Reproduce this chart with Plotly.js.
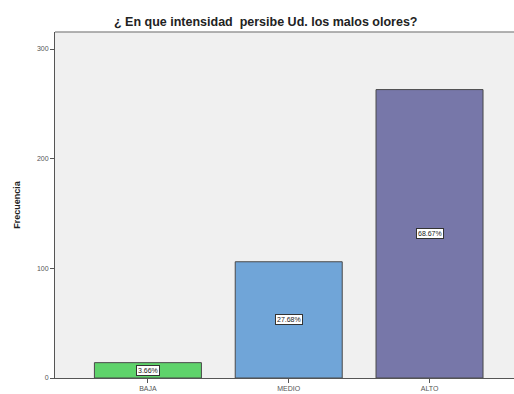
<!DOCTYPE html>
<html>
<head>
<meta charset="utf-8">
<script src="https://cdn.plot.ly/plotly-3.0.1.min.js"></script>
<style>html,body{margin:0;padding:0;background:#fff;}#chart{width:514px;height:394px;}</style>
</head>
<body>
<div id="chart"></div>
<script>
const categories = ["BAJA", "MEDIO", "ALTO"];
const counts = [14, 106, 263];
const percentLabels = ["3.66%", "27.68%", "68.67%"];
const barColors = ["#5fd36b", "#70a5d8", "#7777a9"];
const yTicks = [0, 100, 200, 300];

const trace = {
  type: "bar",
  x: categories,
  y: counts,
  marker: {color: barColors, line: {color: "#4a4a4a", width: 1}},
  width: 0.76,
  hoverinfo: "none"
};

const annotations = categories.map((c, i) => ({
  x: c, y: counts[i] / 2, xref: "x", yref: "y",
  text: percentLabels[i], showarrow: false,
  font: {family: "Arial, Liberation Sans, sans-serif", size: 7, color: "#222"},
  bgcolor: "#ffffff", bordercolor: "#333", borderwidth: 1, borderpad: 1
}));

const layout = {
  width: 514, height: 394,
  margin: {l: 55, r: 0, t: 32, b: 16},
  paper_bgcolor: "#ffffff",
  plot_bgcolor: "#f0f0f0",
  showlegend: false,
  title: {
    text: "<b>¿ En que intensidad  persibe Ud. los malos olores?</b>",
    font: {family: "Arial, Liberation Sans, sans-serif", size: 12.5, color: "#222"},
    x: 0.517, xanchor: "center", y: 0.944, yanchor: "middle"
  },
  xaxis: {
    range: [-0.66, 2.6],
    showgrid: false, zeroline: false,
    showline: true, linecolor: "#555", linewidth: 1,
    ticks: "outside", ticklen: 4, tickcolor: "#555",
    tickfont: {family: "Arial, Liberation Sans, sans-serif", size: 7, color: "#555"},
    fixedrange: true
  },
  yaxis: {
    range: [0, 315.5],
    tickvals: yTicks,
    showgrid: false, zeroline: false,
    showline: true, linecolor: "#555", linewidth: 1,
    ticks: "outside", ticklen: 4, tickcolor: "#555",
    tickfont: {family: "Arial, Liberation Sans, sans-serif", size: 7, color: "#555"},
    title: {text: "<b>Frecuencia</b>", font: {family: "Arial, Liberation Sans, sans-serif", size: 9, color: "#222"}, standoff: 14},
    fixedrange: true
  },
  shapes: [{
    type: "line", xref: "paper", yref: "paper", x0: 0, x1: 1, y0: 1, y1: 1,
    line: {color: "#999", width: 1.5}
  }],
  annotations: annotations
};

Plotly.newPlot("chart", [trace], layout, {displayModeBar: false, staticPlot: true});
</script>
</body>
</html>
